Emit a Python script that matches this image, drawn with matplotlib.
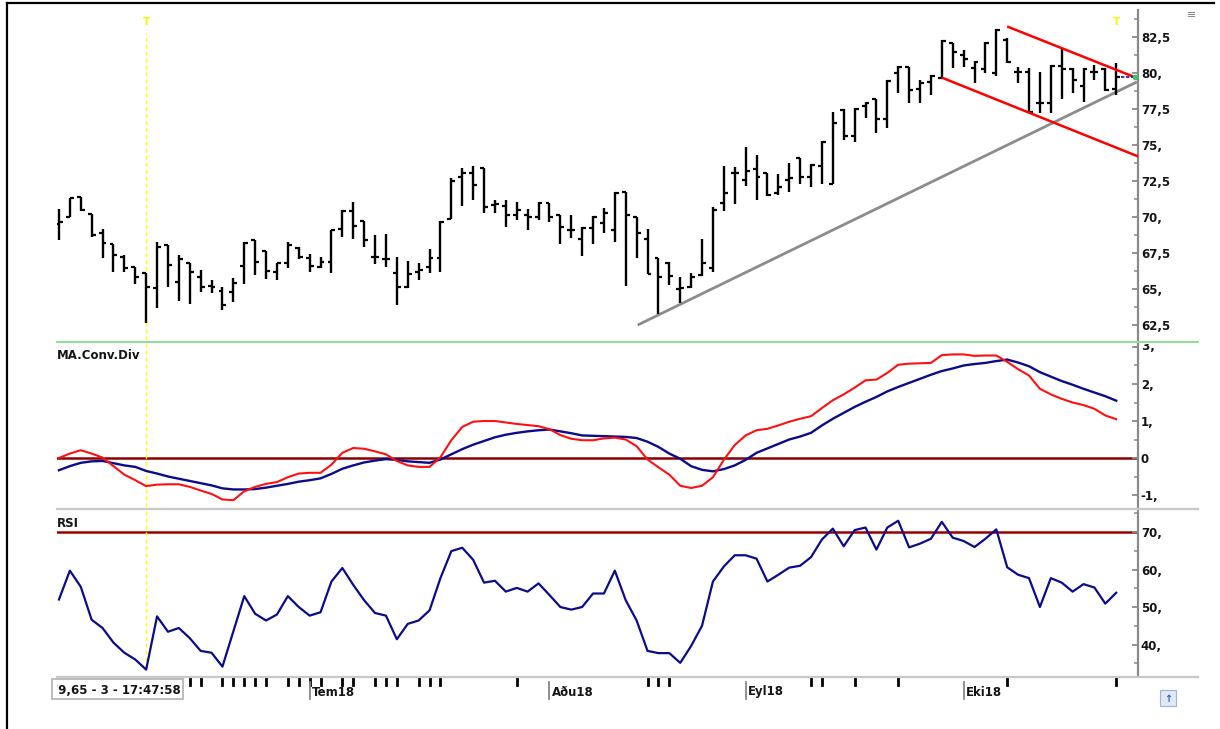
import matplotlib
matplotlib.use("Agg")
import matplotlib.pyplot as plt
from matplotlib.lines import Line2D
from matplotlib.patches import Rectangle
from matplotlib.ticker import FixedLocator, FuncFormatter
from matplotlib.transforms import blended_transform_factory, Bbox, TransformedBbox
import numpy as np

plt.rcParams['font.family'] = ['DejaVu Sans']

# ---------------- data ----------------
opens = [69.51, 70.00, 71.39, 70.21, 68.89, 68.13, 67.22, 66.53, 66.11, 65.07,
         68.06, 65.49, 66.81, 65.83, 65.21, 64.86, 64.79, 66.60, 68.40, 67.64,
         66.18, 66.81, 67.85, 67.15, 66.53, 66.88, 69.17, 70.42, 69.72, 67.22,
         67.08, 66.11, 65.14, 66.18, 66.53, 67.15, 69.86, 72.78, 73.06, 73.40,
         70.83, 70.76, 70.14, 70.14, 70.00, 70.97, 70.14, 69.10, 68.47, 69.24,
         69.58, 69.10, 71.74, 70.00, 68.47, 67.15, 66.81, 65.00, 65.14, 65.97,
         66.46, 70.97, 73.06, 72.57, 73.33, 73.06, 71.67, 72.57, 74.10, 72.78,
         73.54, 72.29, 77.43, 75.63, 77.71, 78.19, 76.81, 80.00, 80.42, 78.89,
         79.38, 79.65, 82.08, 81.25, 80.35, 80.28, 80.00, 82.29, 80.07, 80.07,
         77.92, 77.92, 80.49, 80.28, 79.10, 80.07, 80.28, 78.89]
highs = [70.56, 71.32, 71.39, 70.21, 69.17, 68.13, 67.36, 66.53, 66.11, 68.26,
         68.06, 67.36, 66.81, 66.32, 65.63, 65.14, 65.76, 68.26, 68.40, 67.64,
         66.81, 68.26, 67.92, 67.43, 67.22, 69.10, 70.49, 71.04, 69.72, 68.75,
         68.82, 67.22, 66.94, 66.81, 67.78, 69.72, 72.71, 73.40, 73.54, 73.40,
         71.18, 71.18, 71.04, 70.56, 71.04, 70.97, 70.14, 70.14, 69.31, 70.07,
         70.63, 71.74, 71.74, 70.00, 69.17, 67.15, 66.88, 65.83, 66.11, 68.47,
         70.69, 73.54, 73.47, 74.86, 74.31, 73.06, 72.99, 73.75, 74.10, 73.68,
         75.28, 77.29, 77.50, 77.57, 77.99, 78.19, 79.51, 80.49, 80.42, 79.51,
         79.86, 82.29, 82.08, 81.60, 80.83, 82.15, 83.06, 82.43, 80.42, 80.35,
         80.07, 80.56, 81.74, 80.35, 80.35, 80.56, 80.35, 80.69]
lows = [68.40, 70.00, 70.42, 68.61, 67.15, 66.18, 66.18, 65.35, 62.64, 63.68,
        65.14, 64.17, 63.96, 64.79, 64.72, 63.54, 64.10, 65.35, 65.97, 65.69,
        65.63, 66.46, 67.08, 66.18, 66.46, 66.11, 68.61, 68.47, 67.92, 66.74,
        66.53, 63.89, 65.07, 65.63, 66.11, 66.18, 69.86, 70.76, 71.18, 70.28,
        70.28, 69.31, 69.79, 69.10, 69.79, 69.65, 68.13, 68.54, 67.29, 68.13,
        68.89, 68.26, 65.21, 67.15, 66.04, 63.26, 65.28, 64.03, 65.07, 65.90,
        66.18, 70.42, 70.90, 72.15, 71.18, 71.46, 71.53, 71.74, 72.29, 72.08,
        72.29, 72.29, 75.35, 75.21, 76.88, 75.83, 76.18, 78.61, 77.92, 77.92,
        78.47, 79.58, 80.35, 80.42, 79.31, 80.00, 79.79, 80.69, 79.31, 77.22,
        77.22, 77.22, 78.19, 78.61, 77.99, 79.51, 78.75, 78.47]
closes = [69.65, 71.32, 70.49, 68.75, 68.19, 67.36, 66.46, 65.83, 65.14, 67.92,
          66.67, 67.08, 66.18, 65.14, 65.14, 63.89, 65.42, 68.19, 66.88, 66.25,
          66.81, 68.06, 67.22, 66.60, 66.88, 69.10, 70.42, 69.38, 68.40, 67.22,
          67.08, 65.14, 66.04, 66.32, 67.15, 69.65, 72.50, 73.06, 72.22, 70.69,
          70.90, 70.14, 70.49, 70.00, 70.97, 70.00, 69.31, 69.10, 69.24, 70.00,
          70.28, 71.67, 70.14, 68.89, 66.04, 65.83, 65.90, 65.07, 65.83, 66.81,
          70.49, 71.67, 73.06, 73.20, 72.78, 71.53, 72.08, 72.71, 72.78, 73.61,
          75.21, 76.53, 75.63, 77.50, 77.92, 76.81, 79.44, 80.42, 78.82, 79.31,
          79.79, 82.22, 81.46, 80.97, 80.76, 82.08, 82.99, 80.76, 80.07, 77.29,
          77.92, 80.49, 80.28, 79.51, 80.28, 80.07, 78.82, 79.72]

macd = [0.00, 0.12, 0.21, 0.12, 0.01, -0.22, -0.45, -0.60, -0.76, -0.72,
        -0.71, -0.71, -0.78, -0.88, -0.97, -1.12, -1.14, -0.90, -0.78, -0.70,
        -0.65, -0.52, -0.42, -0.40, -0.40, -0.18, 0.14, 0.27, 0.25, 0.18,
        0.10, -0.08, -0.20, -0.24, -0.24, 0.02, 0.48, 0.84, 0.98, 1.00,
        1.00, 0.96, 0.92, 0.89, 0.86, 0.78, 0.62, 0.52, 0.48, 0.48,
        0.53, 0.55, 0.50, 0.32, -0.04, -0.25, -0.45, -0.75, -0.81, -0.75,
        -0.52, -0.05, 0.35, 0.61, 0.75, 0.79, 0.88, 0.98, 1.06, 1.13,
        1.35, 1.56, 1.72, 1.90, 2.10, 2.12, 2.30, 2.52, 2.55, 2.56,
        2.57, 2.78, 2.80, 2.80, 2.76, 2.77, 2.77, 2.60, 2.40, 2.23,
        1.87, 1.72, 1.60, 1.50, 1.43, 1.33, 1.15, 1.05]
signal = [-0.33, -0.22, -0.13, -0.09, -0.08, -0.14, -0.20, -0.24, -0.35, -0.42,
          -0.50, -0.56, -0.62, -0.68, -0.74, -0.82, -0.85, -0.85, -0.84, -0.80,
          -0.75, -0.70, -0.64, -0.60, -0.55, -0.43, -0.29, -0.20, -0.12, -0.07,
          -0.03, -0.05, -0.09, -0.11, -0.13, -0.04, 0.10, 0.24, 0.36, 0.46,
          0.56, 0.63, 0.68, 0.72, 0.75, 0.77, 0.72, 0.67, 0.61, 0.60,
          0.59, 0.58, 0.57, 0.54, 0.44, 0.30, 0.12, -0.02, -0.22, -0.32,
          -0.36, -0.30, -0.20, -0.05, 0.14, 0.26, 0.38, 0.50, 0.58, 0.68,
          0.88, 1.06, 1.22, 1.38, 1.52, 1.65, 1.80, 1.92, 2.03, 2.14,
          2.25, 2.35, 2.42, 2.50, 2.54, 2.57, 2.62, 2.66, 2.58, 2.48,
          2.32, 2.20, 2.08, 1.98, 1.87, 1.77, 1.67, 1.55]
rsi = [52.0, 59.7, 55.4, 46.6, 44.4, 40.5, 37.8, 36.0, 33.3, 47.5,
       43.4, 44.4, 41.7, 38.3, 37.8, 34.1, 43.5, 52.9, 48.2, 46.4,
       48.0, 52.9, 50.0, 47.7, 48.6, 56.8, 60.4, 55.9, 51.8, 48.4,
       47.7, 41.4, 45.5, 46.4, 49.1, 57.7, 64.9, 65.8, 62.6, 56.5,
       57.0, 54.1, 55.1, 54.1, 56.3, 53.2, 50.0, 49.3, 50.0, 53.6,
       53.6, 59.7, 51.8, 46.4, 38.3, 37.7, 37.7, 35.1, 39.6, 45.0,
       56.8, 60.8, 63.8, 63.8, 62.9, 56.8, 58.6, 60.5, 61.0, 63.3,
       68.0, 70.9, 66.2, 70.5, 71.2, 65.3, 71.2, 73.0, 65.9, 66.9,
       68.2, 72.7, 68.5, 67.6, 66.0, 68.2, 70.7, 60.6, 58.6, 57.7,
       50.0, 57.7, 56.5, 54.1, 56.1, 55.2, 50.9, 53.8]

price_ticks = [62.5, 65, 67.5, 70, 72.5, 75, 77.5, 80, 82.5]
macd_ticks = [-1, 0, 1, 2, 3]
rsi_ticks = [40, 50, 60, 70]

# trend lines (bar index, price)
support_x = [53.1, 98.9]
support_y = [62.5, 79.38]
chan_up_x = [87.1, 98.9]
chan_up_y = [83.2, 79.65]
chan_lo_x = [81.1, 98.9]
chan_lo_y = [79.65, 74.24]

month_labels = ["Tem18", "A\u00f0u18", "Eyl18", "Eki18"]
month_idx = [23, 45, 63, 83]
event_idx = [1, 2, 3, 4, 5, 6, 7, 8, 10, 11, 12, 13, 15, 16, 17, 18, 19, 21, 22, 23, 24,
             26, 27, 29, 30, 31, 33, 34, 35, 42, 54, 55, 56, 69, 70, 73, 77, 87, 97]
marker_idx = [8, 97]
info_text = "79,65 - 3 - 17:47:58"

# ---------------- layout ----------------
W, H = 1220, 729
fig = plt.figure(figsize=(W / 100, H / 100), dpi=100)
fig.patch.set_facecolor("white")


def fx(px):
    return px / W


def fy(py):
    return 1 - py / H


L, R = 57, 1138
ax_p = fig.add_axes([fx(L), fy(340), fx(R) - fx(L), fy(10) - fy(340)])
ax_m = fig.add_axes([fx(L), fy(507), fx(R) - fx(L), fy(344) - fy(507)])
ax_r = fig.add_axes([fx(L), fy(676), fx(R) - fx(L), fy(510) - fy(676)])

n = len(closes)
idx = np.arange(n)
XL = (-0.18, 99.0)

TXT = "#151515"
AXC = "#8a8a8a"


def fmt(v, pos=None):
    if abs(v) < 1e-9:
        return "0"
    s = f"{v:.1f}".rstrip("0")
    return s.replace(".", ",")


for ax in (ax_p, ax_m, ax_r):
    ax.set_xlim(*XL)
    ax.set_facecolor("white")
    for s in ("top", "left", "bottom"):
        ax.spines[s].set_visible(False)
    ax.spines["right"].set_color(AXC)
    ax.spines["right"].set_linewidth(1.6)
    ax.yaxis.tick_right()
    ax.tick_params(axis="y", which="major", direction="in", length=4.5, width=1.3,
                   color=AXC, pad=2, labelsize=8.5, labelcolor=TXT)
    ax.tick_params(axis="y", which="minor", direction="in", length=3, width=1.1, color=AXC)
    ax.tick_params(axis="x", which="both", bottom=False, labelbottom=False)
    for lab in ax.get_yticklabels():
        lab.set_fontweight("bold")

# ---- price panel ----
ax_p.set_ylim(61.46, 84.375)
ax_p.yaxis.set_major_locator(FixedLocator(price_ticks))
ax_p.yaxis.set_minor_locator(FixedLocator(np.arange(61.25, 84.0, 1.25)))
ax_p.yaxis.set_major_formatter(FuncFormatter(fmt))

ax_p.plot(support_x, support_y, color="#8c8c8c", lw=2.0, solid_capstyle="butt", zorder=2)
ax_p.plot(chan_up_x, chan_up_y, color="#ff0000", lw=1.8, zorder=4)
ax_p.plot(chan_lo_x, chan_lo_y, color="#ff0000", lw=1.8, zorder=4)

tk = 0.36
ax_p.vlines(idx, lows, highs, color="black", lw=1.7, zorder=3)
ax_p.hlines(opens, idx - tk, idx, color="black", lw=1.6, zorder=3)
ax_p.hlines(closes, idx, idx + tk, color="black", lw=1.6, zorder=3)

# last price marker
ax_p.plot([idx[-1] + 0.4, XL[1]], [closes[-1], closes[-1]], color="#1a1aa0", lw=1.2,
          ls=(0, (2, 1)), zorder=4)
ax_p.plot([XL[1] - 0.3], [closes[-1]], marker="o", ms=3, color="#33cc66", zorder=5,
          clip_on=False)

ax_p.axvline(marker_idx[0], ymin=0, ymax=0.93, color="#ffff00", lw=1.0, ls=(0, (3, 2)),
             zorder=1)
for mi in marker_idx:
    ax_p.text(mi, 0.965, "T", transform=blended_transform_factory(ax_p.transData, ax_p.transAxes),
              color="#f5f500", fontsize=7.5, ha="center", va="center", fontweight="bold")

# ---- MACD panel ----
ax_m.set_ylim(-1.324, 3.081)
ax_m.yaxis.set_major_locator(FixedLocator([-1, 0, 1, 2]))
ax_m.yaxis.set_minor_locator(FixedLocator(np.arange(-1.0, 3.01, 0.5)))
ax_m.yaxis.set_major_formatter(FuncFormatter(fmt))
ax_m.axhline(0, color="#8b0000", lw=1.8, zorder=1)
ax_m.axvline(marker_idx[0], color="#ffff00", lw=1.0, ls=(0, (3, 2)), zorder=1)
ax_m.plot(idx, signal, color="#0b0b8c", lw=1.7, zorder=3)
ax_m.plot(idx, macd, color="#ff1010", lw=1.5, zorder=4)
ax_m.text(0.0, 0.93, "MA.Conv.Div", transform=ax_m.transAxes, fontsize=8.5,
          fontweight="bold", color=TXT, ha="left", va="center")
# clipped top label "3,"
t3 = ax_m.text(1.0, macd_ticks[-1], " " + fmt(macd_ticks[-1]),
               transform=blended_transform_factory(ax_m.transAxes, ax_m.transData),
               fontsize=8.5, fontweight="bold", color=TXT, ha="left", va="center",
               clip_on=True)
t3.set_clip_box(TransformedBbox(Bbox.from_extents(fx(R), fy(520), fx(1200), fy(344)),
                                fig.transFigure))
ax_m.plot([1.0, 0.995], [macd_ticks[-1], macd_ticks[-1]],
          transform=blended_transform_factory(ax_m.transAxes, ax_m.transData),
          color=AXC, lw=1.3, clip_on=False)

# ---- RSI panel ----
ax_r.set_ylim(31.6, 75.87)
ax_r.yaxis.set_major_locator(FixedLocator(rsi_ticks))
ax_r.yaxis.set_minor_locator(FixedLocator(np.arange(35, 76, 5)))
ax_r.yaxis.set_major_formatter(FuncFormatter(fmt))
ax_r.axhline(70, color="#990000", lw=1.8, zorder=1)
ax_r.axvline(marker_idx[0], ymin=0.05, color="#ffff00", lw=1.0, ls=(0, (3, 2)), zorder=1)
ax_r.plot(idx, rsi, color="#0b0b8c", lw=1.6, zorder=3)
ax_r.text(0.0, 0.92, "RSI", transform=ax_r.transAxes, fontsize=8.5,
          fontweight="bold", color=TXT, ha="left", va="center")

for ax in (ax_p, ax_m, ax_r):
    for lab in ax.get_yticklabels():
        lab.set_fontweight("bold")

# ---- separators and frame ----
fig.add_artist(Line2D([fx(L), fx(1198)], [fy(342), fy(342)], color="#90e090", lw=1.4))
fig.add_artist(Line2D([fx(L), fx(1198)], [fy(508.5), fy(508.5)], color="#c8c8c8", lw=1.6))
fig.add_artist(Line2D([fx(L), fx(1198)], [fy(677), fy(677)], color="#c8c8c8", lw=1.6))
fig.add_artist(Line2D([fx(6.5), fx(6.5)], [fy(3), fy(729)], color="black", lw=1.6))
fig.add_artist(Line2D([fx(6.5), fx(1214)], [fy(3), fy(3)], color="black", lw=1.6))

# ---- date axis ----
tr = blended_transform_factory(ax_r.transData, fig.transFigure)
for ei in event_idx:
    fig.add_artist(Line2D([ei, ei], [fy(679), fy(685)], transform=tr, color="black",
                          lw=2.0))
# info box
fig.add_artist(Rectangle((fx(52), fy(699)), fx(183) - fx(52), fy(679) - fy(699),
                         transform=fig.transFigure, facecolor="white",
                         edgecolor="#bdbdbd", lw=1.4, zorder=5))
it = fig.text(fx(50), fy(690), info_text, fontsize=8.5, fontweight="bold",
              color=TXT, ha="left", va="center", zorder=6)
it.set_clip_box(TransformedBbox(Bbox.from_extents(fx(57), fy(700), fx(184), fy(678)),
                                fig.transFigure))
it.set_clip_on(True)

for lab, mi in zip(month_labels, month_idx):
    fig.add_artist(Line2D([mi, mi], [fy(682), fy(699)], transform=tr, color="#888888",
                          lw=1.3))
    fig.text(mi + 0.2, fy(692), lab, transform=tr, fontsize=8.5, fontweight="bold",
             color=TXT, ha="left", va="center")

# small icons
fig.add_artist(Rectangle((fx(1160), fy(706)), fx(16), fy(690) - fy(706),
                         transform=fig.transFigure, facecolor="#dfe8f5",
                         edgecolor="#9fb4d0", lw=0.8))
fig.text(fx(1168), fy(699), "\u2191", fontsize=7, color="#3060b0", ha="center",
         va="center", fontweight="bold")
fig.text(fx(1192), fy(15), "\u2261", fontsize=8, color="#808080", ha="center", va="center")

fig.savefig("out.png", dpi=100, facecolor="white")
